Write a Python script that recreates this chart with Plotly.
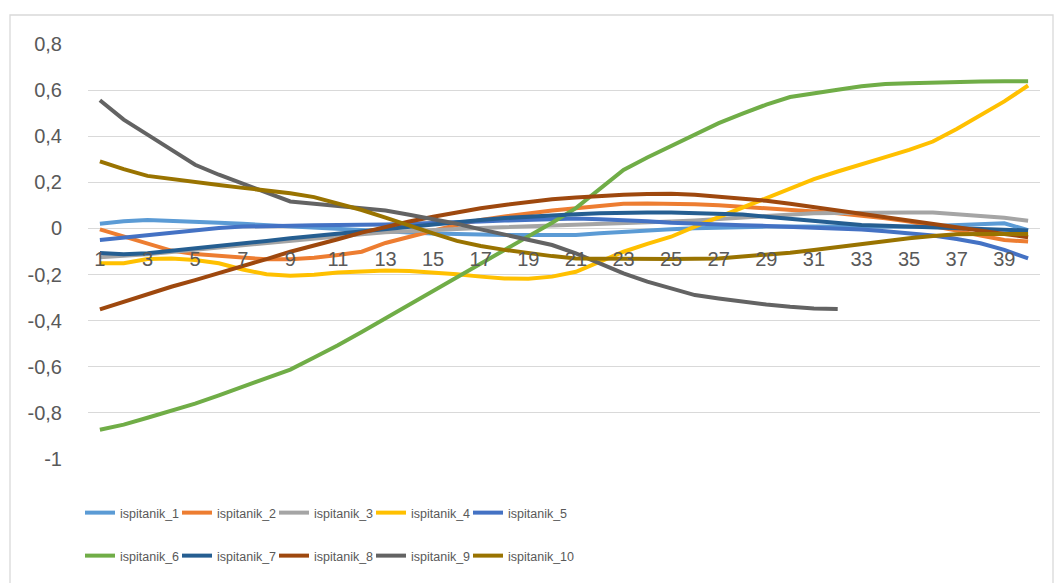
import plotly.graph_objects as go

categories = list(range(1, 41))
series_names = ["ispitanik_1", "ispitanik_2", "ispitanik_3", "ispitanik_4", "ispitanik_5",
                "ispitanik_6", "ispitanik_7", "ispitanik_8", "ispitanik_9", "ispitanik_10"]
colors = ["#5B9BD5", "#ED7D31", "#A5A5A5", "#FFC000", "#4472C4",
          "#70AD47", "#255E91", "#9E480E", "#636363", "#997300"]

s1 = [0.020, 0.031, 0.037, 0.034, 0.030, 0.025, 0.020, 0.014, 0.008, 0.002, -0.004, -0.009, -0.014, -0.018, -0.022, -0.025, -0.027, -0.028, -0.028, -0.028,
      -0.028, -0.021, -0.014, -0.008, -0.004, 0.001, 0.004, 0.007, 0.008, 0.008, 0.008, 0.007, 0.005, 0.005, 0.007, 0.011, 0.015, 0.020, 0.022, -0.007]
s2 = [-0.004, -0.036, -0.067, -0.096, -0.111, -0.120, -0.128, -0.134, -0.134, -0.127, -0.115, -0.101, -0.063, -0.035, -0.010, 0.015, 0.037, 0.052, 0.066, 0.078,
      0.088, 0.099, 0.107, 0.108, 0.108, 0.105, 0.101, 0.095, 0.088, 0.080, 0.073, 0.066, 0.056, 0.044, 0.030, 0.012, -0.009, -0.031, -0.050, -0.057]
s3 = [-0.125, -0.120, -0.112, -0.102, -0.092, -0.082, -0.072, -0.062, -0.052, -0.042, -0.033, -0.025, -0.017, -0.011, -0.006, -0.002, 0.002, 0.005, 0.008, 0.011,
      0.018, 0.021, 0.024, 0.027, 0.030, 0.035, 0.041, 0.049, 0.056, 0.062, 0.066, 0.067, 0.069, 0.069, 0.069, 0.069, 0.062, 0.054, 0.046, 0.033]
s4 = [-0.151, -0.151, -0.133, -0.130, -0.137, -0.151, -0.178, -0.199, -0.205, -0.201, -0.191, -0.185, -0.182, -0.185, -0.191, -0.199, -0.209, -0.217, -0.218, -0.209,
      -0.188, -0.144, -0.101, -0.067, -0.036, 0.008, 0.049, 0.092, 0.135, 0.175, 0.214, 0.247, 0.276, 0.309, 0.341, 0.377, 0.431, 0.489, 0.551, 0.620]
s5 = [-0.050, -0.040, -0.030, -0.018, -0.007, 0.002, 0.008, 0.011, 0.014, 0.014, 0.015, 0.015, 0.017, 0.020, 0.022, 0.025, 0.030, 0.034, 0.037, 0.040,
      0.043, 0.040, 0.037, 0.031, 0.025, 0.020, 0.015, 0.014, 0.011, 0.008, 0.005, 0.001, -0.005, -0.012, -0.021, -0.031, -0.046, -0.064, -0.093, -0.130]
s6 = [-0.873, -0.851, -0.821, -0.792, -0.760, -0.724, -0.688, -0.651, -0.612, -0.560, -0.507, -0.449, -0.390, -0.330, -0.270, -0.210, -0.151, -0.092, -0.035, 0.025,
      0.088, 0.170, 0.254, 0.308, 0.359, 0.409, 0.457, 0.498, 0.537, 0.570, 0.588, 0.602, 0.617, 0.627, 0.630, 0.633, 0.637, 0.637, 0.638, 0.638]
s7 = [-0.107, -0.112, -0.108, -0.098, -0.086, -0.076, -0.064, -0.054, -0.043, -0.033, -0.021, -0.009, 0.001, 0.011, 0.020, 0.029, 0.037, 0.045, 0.052, 0.057,
      0.062, 0.066, 0.069, 0.069, 0.069, 0.067, 0.064, 0.060, 0.051, 0.041, 0.031, 0.022, 0.015, 0.012, 0.008, 0.005, 0.001, -0.004, -0.007, -0.009]
s8 = [-0.351, -0.318, -0.282, -0.253, -0.224, -0.195, -0.163, -0.133, -0.101, -0.075, -0.047, -0.018, 0.008, 0.030, 0.051, 0.070, 0.088, 0.102, 0.115, 0.127,
      0.134, 0.141, 0.146, 0.149, 0.150, 0.146, 0.138, 0.130, 0.120, 0.107, 0.092, 0.078, 0.063, 0.050, 0.036, 0.018, 0.004, -0.009, -0.024, -0.038]
s9 = [0.556, 0.472, 0.407, 0.341, 0.276, 0.233, 0.193, 0.153, 0.117, 0.107, 0.098, 0.090, 0.078, 0.059, 0.040, 0.020, -0.004, -0.028, -0.050, -0.072,
      -0.108, -0.151, -0.195, -0.231, -0.260, -0.289, -0.304, -0.318, -0.330, -0.340, -0.347, -0.349]
s10 = [0.291, 0.257, 0.228, 0.214, 0.199, 0.188, 0.176, 0.164, 0.153, 0.136, 0.109, 0.080, 0.047, 0.011, -0.021, -0.054, -0.076, -0.093, -0.108, -0.120,
       -0.130, -0.131, -0.133, -0.133, -0.133, -0.131, -0.130, -0.122, -0.115, -0.105, -0.093, -0.080, -0.067, -0.054, -0.043, -0.033, -0.025, -0.024, -0.024, -0.024]

all_series = [s1, s2, s3, s4, s5, s6, s7, s8, s9, s10]

y_tickvals = [-1, -0.8, -0.6, -0.4, -0.2, 0, 0.2, 0.4, 0.6, 0.8]
y_ticktext = ["-1", "-0,8", "-0,6", "-0,4", "-0,2", "0", "0,2", "0,4", "0,6", "0,8"]
x_tickvals = list(range(1, 41, 2))

text_col = "#595959"
W, H = 1061, 583
L, R, T, B = 88, 21, 44, 124
pw, ph = W - L - R, H - T - B


def px_x(p):
    return (p - L) / pw


def px_y(p):
    return (H - B - p) / ph


fig = go.Figure()
legend_layouts = {}
legend_font = dict(family="Liberation Sans, Arial", size=12.5, color=text_col)
for i, (name, vals, col) in enumerate(zip(series_names, all_series, colors)):
    key = "legend" if i == 0 else f"legend{i + 1}"
    fig.add_trace(go.Scatter(
        x=categories[:len(vals)], y=vals, name=name, mode="lines",
        line=dict(color=col, width=4),
        legend=key,
    ))
    row, colidx = divmod(i, 5)
    legend_layouts[key] = dict(
        x=px_x(80 + colidx * 97), y=px_y(513 + row * 43),
        xanchor="left", yanchor="middle", orientation="h",
        itemwidth=30, font=legend_font, bgcolor="rgba(0,0,0,0)",
    )

fig.update_layout(
    width=W, height=H,
    margin=dict(l=L, r=R, t=T, b=B, autoexpand=False),
    paper_bgcolor="white", plot_bgcolor="white",
    font=dict(family="Liberation Sans, Arial", color=text_col, size=20),
    xaxis=dict(range=[0.5, 40.5], tickvals=x_tickvals, ticktext=[str(v) for v in x_tickvals],
               showgrid=False, zeroline=False, showline=False,
               anchor="free", position=1 / 1.8,
               ticks="outside", ticklen=13, tickcolor="rgba(0,0,0,0)",
               tickfont=dict(size=20, color=text_col)),
    yaxis=dict(range=[-1, 0.8], tickvals=y_tickvals, ticktext=y_ticktext,
               showgrid=True, gridcolor="#D9D9D9", gridwidth=1.3, zeroline=False,
               showline=False, ticks="outside", ticklen=21, tickcolor="rgba(0,0,0,0)",
               tickfont=dict(size=20, color=text_col)),
    shapes=[dict(type="rect", xref="paper", yref="paper",
                 x0=px_x(10), x1=px_x(1053), y0=px_y(600), y1=px_y(15),
                 line=dict(color="#D9D9D9", width=1.3), fillcolor="rgba(0,0,0,0)",
                 layer="below")],
    showlegend=True,
    **legend_layouts,
)

fig.write_html("out.html")
